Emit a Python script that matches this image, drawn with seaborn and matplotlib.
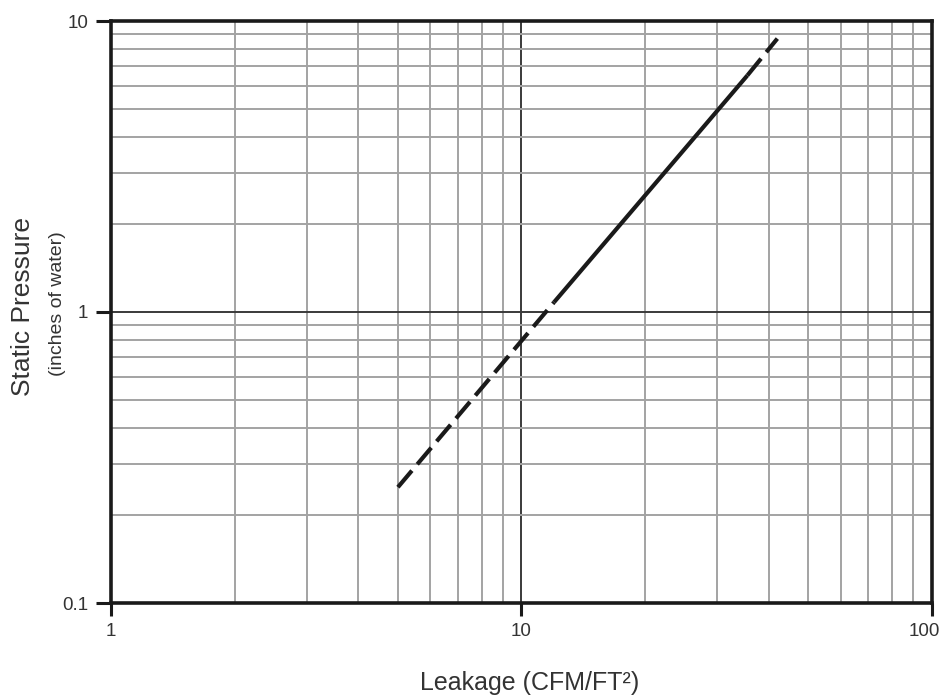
import numpy as np
import pandas as pd
import seaborn as sns
import matplotlib
matplotlib.use("Agg")
import matplotlib.pyplot as plt
import matplotlib.transforms as mtransforms
from matplotlib.ticker import LogLocator, NullFormatter

# ---- data ----
leakage_low = [5.0, 12.0]
pressure_low = [0.25, 1.08]
leakage_mid = [12.0, 35.5]
pressure_mid = [1.08, 6.5]
leakage_high = [35.5, 42.0]
pressure_high = [6.5, 8.7]

x_ticks = [1, 10, 100]
x_tick_labels = ["1", "10", "100"]
y_ticks = [0.1, 1, 10]
y_tick_labels = ["0.1", "1", "10"]

sns.set_style("white")
plt.rcParams["font.family"] = ["Liberation Sans", "DejaVu Sans"]
plt.rcParams["xtick.labelsize"] = 13.5
plt.rcParams["ytick.labelsize"] = 13.5

fig = plt.figure(figsize=(9.45, 7.0), dpi=100)
ax = fig.add_axes([111/945, 1-603/700, (932-111)/945, (603-21)/700])

ax.set_xscale("log")
ax.set_yscale("log")
ax.set_xlim(1, 100)
ax.set_ylim(0.1, 10)

# grid
ax.xaxis.set_minor_locator(LogLocator(base=10, subs=np.arange(2, 10)))
ax.yaxis.set_minor_locator(LogLocator(base=10, subs=np.arange(2, 10)))
ax.xaxis.set_minor_formatter(NullFormatter())
ax.yaxis.set_minor_formatter(NullFormatter())
ax.grid(True, which="minor", color="#a3a3a3", linewidth=1.4)
ax.grid(True, which="major", color="#3a3a3a", linewidth=1.4)
ax.set_axisbelow(True)

line_kw = dict(color="#1a1a1a", linewidth=3.0, estimator=None, sort=False, ax=ax)
df_low = pd.DataFrame({"x": leakage_low, "y": pressure_low})
df_mid = pd.DataFrame({"x": leakage_mid, "y": pressure_mid})
df_high = pd.DataFrame({"x": leakage_high, "y": pressure_high})
sns.lineplot(data=df_low, x="x", y="y", linestyle=(0, (5.2, 2.0)), **line_kw)
sns.lineplot(data=df_mid, x="x", y="y", linestyle="-", **line_kw)
sns.lineplot(data=df_high, x="x", y="y", linestyle=(0, (5.2, 2.0)), **line_kw)
for l in ax.get_lines():
    l.set_dash_capstyle("butt")
    l.set_solid_capstyle("butt")

ax.set_xticks(x_ticks, x_tick_labels, fontsize=13.5, color="#333333")
ax.set_yticks(y_ticks, y_tick_labels, fontsize=13.5, color="#333333")
ax.set_xlim(1, 100)
ax.set_ylim(0.1, 10)

ax.tick_params(axis="y", which="major", direction="out", length=10.5, width=2.2,
               color="#1a1a1a", pad=6)
ax.tick_params(axis="x", which="major", direction="out", length=9.5, width=2.2,
               color="#1a1a1a", pad=5)
ax.tick_params(which="minor", length=0)
ax.tick_params(top=False, right=False, bottom=True, left=True)

# nudge the "100" label slightly left, as in the reference
lbls = ax.get_xticklabels()
offset = mtransforms.ScaledTranslation(-8/100, 0, fig.dpi_scale_trans)
lbls[-1].set_transform(lbls[-1].get_transform() + offset)

for s in ax.spines.values():
    s.set_visible(True)
    s.set_color("#1a1a1a")
    s.set_linewidth(2.6)

ax.set_xlabel("")
ax.set_ylabel("")
fig.text(530/945, 1-683/700, "Leakage (CFM/FT²)", fontsize=18, color="#333333",
         ha="center", va="center")
fig.text(23/945, 1-307/700, "Static Pressure", fontsize=19, color="#333333",
         ha="center", va="center", rotation=90)
fig.text(58/945, 1-304/700, "(inches of water)", fontsize=14, color="#333333",
         ha="center", va="center", rotation=90)

fig.savefig("out.png", dpi=100)
